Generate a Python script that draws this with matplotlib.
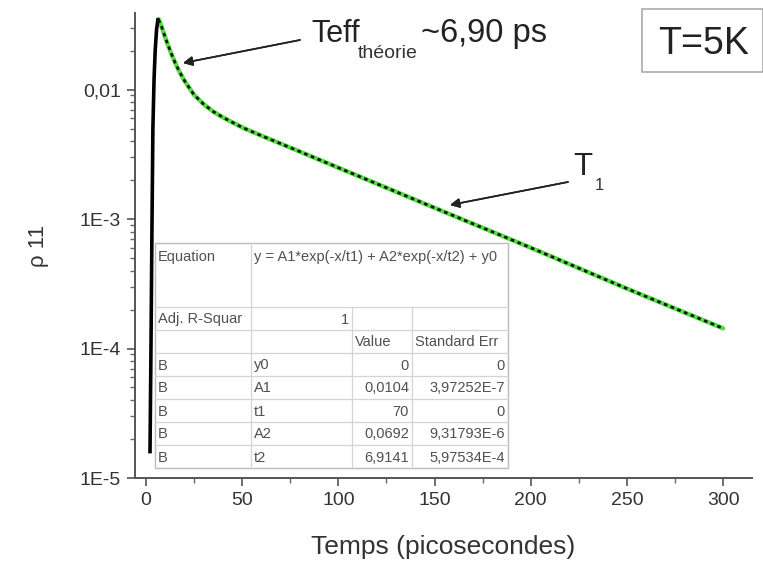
import matplotlib
matplotlib.use("Agg")
import matplotlib.pyplot as plt
from matplotlib.patches import Rectangle
from matplotlib.lines import Line2D

plt.rcParams['font.family'] = ['Liberation Sans', 'DejaVu Sans']

# simulated population (black curve)
t_sim = [2.1, 2.6, 3.1, 3.6, 4.2, 4.8, 5.5, 6.2, 7, 8, 9, 10, 11, 12, 13, 15, 17, 20,
         25, 30, 35, 40, 45, 50, 60, 75, 100, 150, 200, 250, 300]
rho_sim = [1.6e-5, 1e-4, 8e-4, 5e-3, 0.012, 0.020, 0.029, 0.0345, 0.0335, 0.031, 0.028,
           0.0253, 0.0230, 0.0210, 0.0192, 0.0163, 0.0141, 0.0117, 0.0091, 0.0077,
           0.00675, 0.0061, 0.00557, 0.0051, 0.0044, 0.00356, 0.00249, 0.00122,
           0.0006, 0.00029, 0.000143]
i_peak = 7

# bi-exponential fit (green curve)
t_fit = [6.5, 7, 8, 9, 10, 11, 12, 13, 15, 17, 20, 25, 30, 35, 40, 45, 50, 60, 75,
         100, 150, 200, 250, 300]
rho_fit = [0.0350, 0.0340, 0.031, 0.028, 0.0253, 0.0230, 0.0210, 0.0192, 0.0163, 0.0141,
           0.0117, 0.0091, 0.0077, 0.00675, 0.0061, 0.00557, 0.0051, 0.0044, 0.00356,
           0.00249, 0.00122, 0.0006, 0.00029, 0.000143]

y_ticks = [1e-5, 1e-4, 1e-3, 1e-2]
y_ticklabels = ["1E-5", "1E-4", "1E-3", "0,01"]

# fit result table
equation = "y = A1*exp(-x/t1) + A2*exp(-x/t2) + y0"
adj_r2 = "1"
param_names = ["y0", "A1", "t1", "A2", "t2"]
param_values = ["0", "0,0104", "70", "0,0692", "6,9141"]
param_errors = ["0", "3,97252E-7", "0", "9,31793E-6", "5,97534E-4"]

W, H = 763, 567
fig = plt.figure(figsize=(W / 100, H / 100), dpi=100)


def px(x, y):
    # pixel position (from top left) -> figure fraction
    return x / W, 1 - y / H


left, top, right, bottom = 135, 13, 752, 478
ax = fig.add_axes([left / W, 1 - bottom / H, (right - left) / W, (bottom - top) / H])

ax.plot(t_fit, rho_fit, color='#52df40', lw=3.2, solid_capstyle='round', zorder=2)
ax.plot(t_sim[:i_peak + 1], rho_sim[:i_peak + 1], color='k', lw=2.6, zorder=3)
ax.plot(t_sim[i_peak:], rho_sim[i_peak:], color='#111111', lw=2.0,
        ls=(0, (1.3, 1.3)), zorder=3)

ax.set_yscale('log')
ax.set_xlim(-5.7, 315)
ax.set_ylim(1e-5, 0.039)
ax.set_xticks(range(0, 301, 50))
ax.set_xticks(range(25, 301, 50), minor=True)
ax.set_yticks(y_ticks)
ax.set_yticklabels(y_ticklabels)

for s in ['top', 'right']:
    ax.spines[s].set_visible(False)
for s in ['left', 'bottom']:
    ax.spines[s].set_color('#555555')
    ax.spines[s].set_linewidth(1.4)
ax.tick_params(which='major', length=6, width=1.2, color='#555555', labelsize=14,
               labelcolor='#333333', pad=4)
ax.tick_params(which='minor', length=3.5, width=1.0, color='#666666')
ax.set_xlabel("Temps (picosecondes)", fontsize=19, color='#333333', labelpad=19)
ax.set_ylabel("ρ 11", fontsize=16, color='#333333', labelpad=22)

# table drawn in figure pixels
cols = [155, 251, 352, 412, 508]
rows = [243, 307, 330, 353, 376, 399, 422, 445, 468]
grid_c = '#d4d4d4'
tfs = 10.5
tcol = '#505050'


def hline(y, x0, x1):
    fig.add_artist(Line2D([x0 / W, x1 / W], [1 - y / H, 1 - y / H], color=grid_c,
                          lw=0.9, transform=fig.transFigure, zorder=4.5))


def vline(x, y0, y1):
    fig.add_artist(Line2D([x / W, x / W], [1 - y0 / H, 1 - y1 / H], color=grid_c,
                          lw=0.9, transform=fig.transFigure, zorder=4.5))


fig.add_artist(Rectangle(px(cols[0], rows[-1]), (cols[-1] - cols[0]) / W,
                         (rows[-1] - rows[0]) / H, transform=fig.transFigure,
                         facecolor='white', edgecolor='#bbbbbb', lw=1.0, zorder=4))
for y in rows[1:-1]:
    hline(y, cols[0], cols[-1])
vline(cols[1], rows[0], rows[-1])
for x in cols[2:-1]:
    vline(x, rows[1], rows[-1])


def cell(text, c, r, align='left', va='center'):
    if align == 'left':
        x = cols[c] + 3
    else:
        x = cols[c + 1] - 3
    if va == 'top':
        y = rows[r] + 14
    else:
        y = (rows[r] + rows[r + 1]) / 2 + 1
    fig.text(*px(x, y), text, ha=align, va='center', fontsize=tfs, color=tcol, zorder=5)


cell("Equation", 0, 0, va='top')
cell(equation, 1, 0, va='top')
cell("Adj. R-Squar", 0, 1)
cell(adj_r2, 1, 1, align='right')
cell("Value", 2, 2)
cell("Standard Err", 3, 2)
for k in range(len(param_names)):
    cell("B", 0, 3 + k)
    cell(param_names[k], 1, 3 + k)
    cell(param_values[k], 2, 3 + k, align='right')
    cell(param_errors[k], 3, 3 + k, align='right')

# annotations
fig.text(*px(311, 42), "Teff", fontsize=22, color='#222222', va='baseline')
fig.text(*px(358, 58), "théorie", fontsize=14, color='#333333', va='baseline')
fig.text(*px(421, 42), "~6,90 ps", fontsize=23.5, color='#222222', va='baseline')
fig.text(*px(573, 175), "T", fontsize=22.5, color='#222222', va='baseline')
fig.text(*px(595, 190), "1", fontsize=12, color='#333333', va='baseline')

arrow = dict(arrowstyle='-|>', color='#222222', lw=1.2, mutation_scale=14,
             shrinkA=0, shrinkB=0)
fig.add_artist(plt.annotate("", xy=px(183, 63), xytext=px(300, 40),
                            xycoords='figure fraction', textcoords='figure fraction',
                            arrowprops=arrow))
fig.add_artist(plt.annotate("", xy=px(450, 205), xytext=px(568, 182),
                            xycoords='figure fraction', textcoords='figure fraction',
                            arrowprops=arrow))

# temperature box
fig.add_artist(Rectangle(px(642, 72), 121 / W, 63 / H, transform=fig.transFigure,
                         facecolor='white', edgecolor='#aaaaaa', lw=1.2))
fig.text(*px(704, 54), "T=5K", fontsize=27, color='#222222', ha='center', va='baseline')

fig.savefig("out.png", dpi=100)
